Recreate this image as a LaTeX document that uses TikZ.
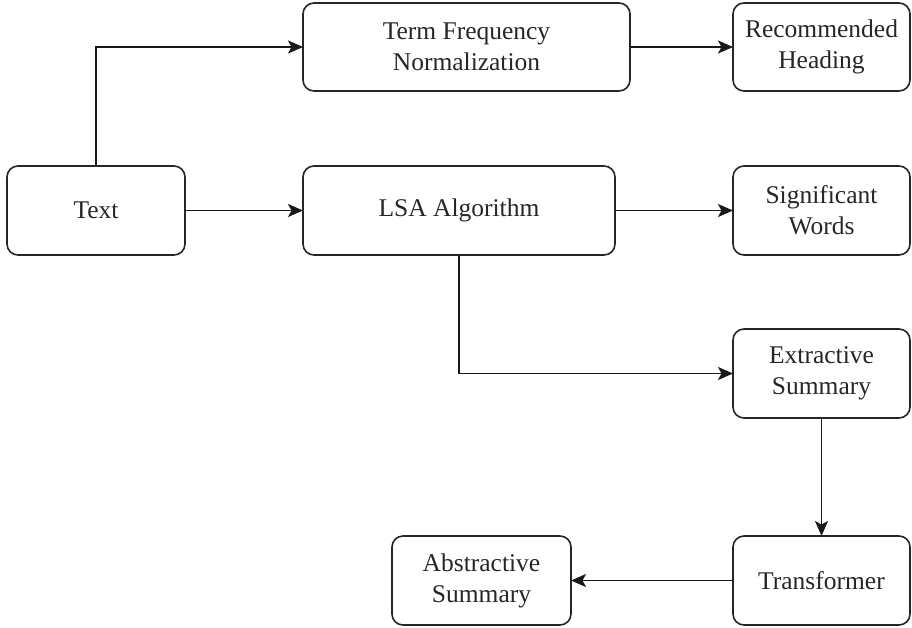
\documentclass[tikz,border=0pt]{standalone}
\usepackage{fontspec}
\setmainfont{LiberationSerif}[Extension=.ttf, UprightFont=*-Regular]
\usetikzlibrary{arrows.meta}
\begin{document}
\begin{tikzpicture}[x=1pt,y=-1pt,
  box/.style={draw=black!85, line width=1.6pt, rounded corners=11pt,
    align=center, inner sep=0pt, outer sep=0pt,
    font=\rmfamily\fontsize{25.5}{31}\selectfont, text=black!85},
  link/.style={draw=black!90, line width=1.7pt,
    -{Stealth[length=15pt,width=13pt,inset=3.5pt]}}]
  \useasboundingbox (0,0) rectangle (912,627);

  % boxes: width x height in px, centred
  \node[box, minimum width=178pt, minimum height=89pt] (text) at (96,210.5) {Text};
  \node[box, minimum width=327pt, minimum height=88pt] (tfn) at (466.5,47) {Term Frequency\\Normalization};
  \node[box, minimum width=177pt, minimum height=88pt] (rh) at (821.5,47) {Recommended\\Heading};
  \node[box, minimum width=312pt, minimum height=89pt] (lsa) at (459,210.5) {LSA Algorithm};
  \node[box, minimum width=177pt, minimum height=89pt] (sw) at (821.5,210.5) {Significant\\Words};
  \node[box, minimum width=177pt, minimum height=89pt] (es) at (821.5,373.5) {Extractive\\Summary};
  \node[box, minimum width=177pt, minimum height=89pt] (tr) at (821.5,580.5) {Transformer};
  \node[box, minimum width=179pt, minimum height=89pt] (ab) at (481.5,580.5) {Abstractive\\Summary};

  % connectors
  \draw[link] (text.north) |- (tfn.west);
  \draw[link] (text.east) -- (lsa.west);
  \draw[link] (tfn.east) -- (rh.west);
  \draw[link] (lsa.east) -- (sw.west);
  \draw[link] (lsa.south) |- (es.west);
  \draw[link] (es.south) -- (tr.north);
  \draw[link] (tr.west) -- (ab.east);
\end{tikzpicture}
\end{document}
